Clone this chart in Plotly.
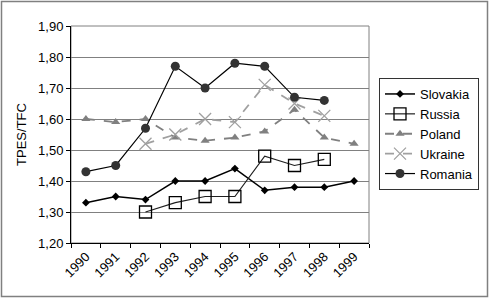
import plotly.graph_objects as go

years = ["1990", "1991", "1992", "1993", "1994", "1995", "1996", "1997", "1998", "1999"]
slovakia = [1.33, 1.35, 1.34, 1.40, 1.40, 1.44, 1.37, 1.38, 1.38, 1.40]
russia = [None, None, 1.30, 1.33, 1.35, 1.35, 1.48, 1.45, 1.47, None]
poland = [1.60, 1.59, 1.60, 1.54, 1.53, 1.54, 1.56, 1.63, 1.54, 1.52]
ukraine = [None, None, 1.52, 1.55, 1.60, 1.59, 1.71, 1.65, 1.61, None]
romania = [1.43, 1.45, 1.57, 1.77, 1.70, 1.78, 1.77, 1.67, 1.66, None]
y_ticks = [1.20, 1.30, 1.40, 1.50, 1.60, 1.70, 1.80, 1.90]

W, H = 490, 298
L, R, T, B = 71, 369, 26, 243

fig = go.Figure()
fig.add_trace(go.Scatter(x=years, y=slovakia, name="Slovakia", mode="lines+markers",
                         line=dict(color="black", width=1.5),
                         marker=dict(symbol="diamond", size=6, color="black")))
fig.add_trace(go.Scatter(x=years, y=russia, name="Russia", mode="lines+markers",
                         line=dict(color="#202020", width=1.2),
                         marker=dict(symbol="square-open", size=12, color="black", line=dict(width=1.3))))
fig.add_trace(go.Scatter(x=years, y=poland, name="Poland", mode="lines+markers",
                         line=dict(color="#808080", width=1.8, dash="dash"),
                         marker=dict(symbol="triangle-up", size=8, color="#808080")))
fig.add_trace(go.Scatter(x=years, y=ukraine, name="Ukraine", mode="lines+markers",
                         line=dict(color="#a0a0a0", width=1.8, dash="dash"),
                         marker=dict(symbol="x-thin-open", size=12, color="#a0a0a0", line=dict(width=1.3, color="#a0a0a0"))))
fig.add_trace(go.Scatter(x=years, y=romania, name="Romania", mode="lines+markers",
                         line=dict(color="black", width=1.2),
                         marker=dict(symbol="circle", size=9, color="#333333")))

# outer chart frame
fig.add_shape(type="rect", xref="paper", yref="paper",
              x0=(1.5 - L) / (R - L), x1=(487.5 - L) / (R - L),
              y0=(B - 296.5) / (B - T), y1=(B - 1.5) / (B - T),
              line=dict(color="#808080", width=1.5), fillcolor="rgba(0,0,0,0)", layer="below")
# plot area frame (top/right)
fig.add_shape(type="rect", xref="paper", yref="paper", x0=0, x1=1, y0=0, y1=1,
              line=dict(color="#808080", width=1), fillcolor="rgba(0,0,0,0)", layer="below")

fig.update_layout(
    width=W, height=H,
    margin=dict(l=L, r=W - R, t=T, b=H - B, pad=0, autoexpand=False),
    paper_bgcolor="white", plot_bgcolor="white",
    separators=", ",
    font=dict(family="Liberation Sans, Arial, sans-serif", size=13, color="black"),
    showlegend=True,
    legend=dict(x=(379 - L) / (R - L), y=(B - 78) / (B - T), xanchor="left", yanchor="top",
                bgcolor="white", bordercolor="#333333", borderwidth=1,
                font=dict(size=13), tracegroupgap=0, itemwidth=30),
    xaxis=dict(type="category", categoryorder="array", categoryarray=years,
               range=[-0.5, 9.5], tickson="boundaries", ticks="outside", ticklen=4,
               tickcolor="black", showline=True, linecolor="black", linewidth=1,
               tickangle=-45, showgrid=False, zeroline=False, fixedrange=True),
    yaxis=dict(range=[1.20, 1.90], tickvals=y_ticks, tickformat=".2f",
               ticks="outside", ticklen=4, tickcolor="black",
               showline=True, linecolor="black", linewidth=1,
               showgrid=True, gridcolor="#808080", gridwidth=1, zeroline=False,
               title=dict(text="TPES/TFC", standoff=8, font=dict(size=13))),
)

fig.write_html("out.html")
